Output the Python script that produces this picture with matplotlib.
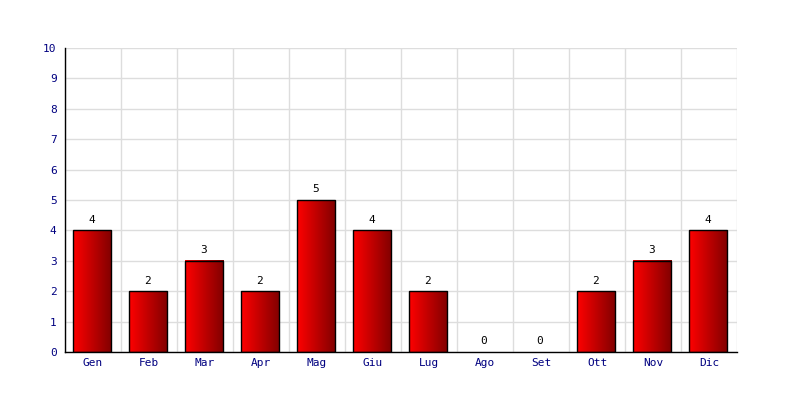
import matplotlib
matplotlib.use("Agg")
import matplotlib.pyplot as plt
import numpy as np
from matplotlib.colors import LinearSegmentedColormap

months = ["Gen", "Feb", "Mar", "Apr", "Mag", "Giu", "Lug", "Ago", "Set", "Ott", "Nov", "Dic"]
values = [4, 2, 3, 2, 5, 4, 2, 0, 0, 2, 3, 4]
yticks = list(range(0, 11))

plt.rcParams['font.family'] = ['DejaVu Sans Mono']

fig = plt.figure(figsize=(8, 4), dpi=100)
ax = fig.add_axes([65/800, 48/400, 672/800, 304/400])

x = np.arange(len(months))
bars = ax.bar(x - 0.02, values, width=0.68, color='none',
              edgecolor=['black' if v > 0 else 'none' for v in values],
              linewidth=1.0, zorder=3)

cmap = LinearSegmentedColormap.from_list('rg', ['#ff0000', '#800000'])
grad = np.linspace(0, 1, 256).reshape(1, -1)
for b in bars:
    h = b.get_height()
    if h <= 0:
        continue
    x0 = b.get_x()
    w = b.get_width()
    ax.imshow(grad, cmap=cmap, extent=[x0, x0 + w, 0, h], aspect='auto', zorder=2, interpolation='bilinear')

for xi, v in zip(x, values):
    ax.annotate(str(v), (xi - 0.02, v), xytext=(0, 4), textcoords='offset points',
                ha='center', va='bottom', fontsize=8, color='black')

ax.set_xlim(-0.5, len(months) - 0.5)
ax.set_ylim(0, 10)
ax.set_yticks(yticks)
ax.set_yticklabels([str(t) for t in yticks])
ax.set_xticks(x)
ax.set_xticklabels(months)
ax.set_xticks(np.arange(-0.5, len(months) + 0.5, 1), minor=True)
ax.tick_params(axis='both', which='both', length=0, colors='#000080', labelsize=8)
ax.tick_params(axis='y', pad=6)
ax.tick_params(axis='x', pad=4)
ax.grid(True, which='minor', axis='x', color='#dddddd', linewidth=1, zorder=0)
ax.grid(True, which='major', axis='y', color='#dddddd', linewidth=1, zorder=0)
ax.set_axisbelow(True)
for s in ['top', 'right']:
    ax.spines[s].set_visible(False)
for s in ['left', 'bottom']:
    ax.spines[s].set_color('black')
    ax.spines[s].set_linewidth(1)
    ax.spines[s].set_zorder(4)

fig.savefig('out.png', dpi=100)
